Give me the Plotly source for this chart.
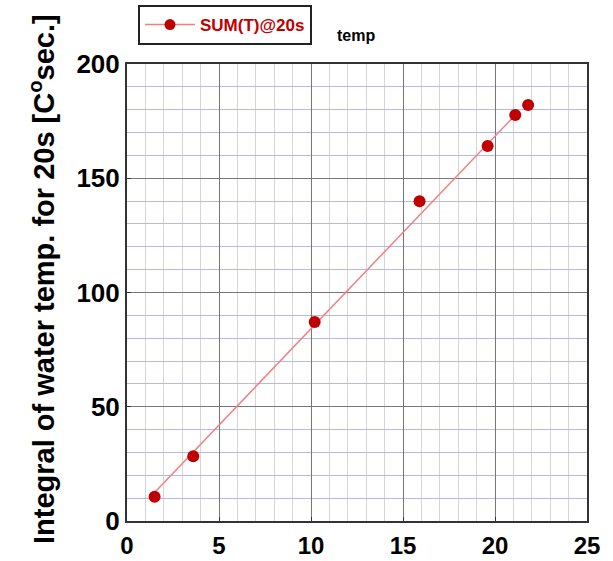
import plotly.graph_objects as go

# Data
time_s = [1.5, 3.6, 10.2, 15.9, 19.6, 21.1, 21.8]
sum_temp = [10.6, 28.3, 87.1, 139.9, 164.1, 177.7, 182.1]

fit_x = [1.5, 20.9]
fit_y = [12.5, 176.0]

series_name = "SUM(T)@20s"
y_title = "Integral of water temp. for 20s [C<sup>o</sup>sec.]"
x_ticks = [0, 5, 10, 15, 20, 25]
y_ticks = [0, 50, 100, 150, 200]

red = "#c00000"
line_col = "#f08080"

fig = go.Figure()
fig.add_trace(go.Scatter(x=fit_x, y=fit_y, mode="lines",
                         line=dict(color=line_col, width=1.5), showlegend=False))
fig.add_trace(go.Scatter(x=time_s, y=sum_temp, mode="markers",
                         marker=dict(color=red, size=12), showlegend=False))
# legend entry
fig.add_trace(go.Scatter(x=[None], y=[None], mode="lines+markers", name=series_name,
                         line=dict(color=line_col, width=1.5),
                         marker=dict(color=red, size=11)))

fam = "Liberation Sans"
PL, PT, PW, PH = 127, 64, 460, 457

fig.update_layout(
    width=613, height=561,
    margin=dict(l=PL, r=613 - PL - PW, t=PT, b=561 - PT - PH, autoexpand=False),
    plot_bgcolor="white", paper_bgcolor="white",
    showlegend=True,
    legend=dict(x=(138 - PL) / PW, y=(PT + PH - 5) / PH, xanchor="left", yanchor="top",
                bordercolor="#222", borderwidth=2, bgcolor="white",
                font=dict(family=fam, size=17, color=red, weight="bold"),
                itemwidth=50),
    annotations=[
        dict(text="<b>temp</b>", xref="paper", yref="paper",
             x=(335 - PL) / PW, y=(PT + PH - 35) / PH,
             xanchor="left", yanchor="middle", showarrow=False,
             font=dict(size=16, color="black", family=fam)),
        dict(text=y_title, xref="paper", yref="paper", textangle=-90,
             x=(42 - PL) / PW, y=(PT + PH - 279) / PH,
             xanchor="center", yanchor="middle", showarrow=False,
             font=dict(size=29, color="black", family=fam, weight="bold")),
    ],
)

fig.update_xaxes(range=[0, 25], tickvals=x_ticks, ticktext=[str(v) for v in x_ticks],
                 showgrid=True, gridcolor="#777", gridwidth=1.2,
                 minor=dict(dtick=1, showgrid=True, gridcolor="#d6d6d6", gridwidth=1),
                 showline=True, linecolor="#333", linewidth=2, mirror=True,
                 ticks="inside", ticklen=4, tickcolor="#333",
                 ticklabelstandoff=2, automargin=False,
                 tickfont=dict(family=fam, size=24, color="black", weight="bold"),
                 zeroline=False)
fig.update_yaxes(range=[0, 200], tickvals=y_ticks, ticktext=[str(v) for v in y_ticks],
                 showgrid=True, gridcolor="#777", gridwidth=1.2,
                 minor=dict(dtick=10, showgrid=True, gridcolor="#b8b8e8", gridwidth=1),
                 showline=True, linecolor="#333", linewidth=2, mirror=True,
                 ticks="inside", ticklen=4, tickcolor="#333", automargin=False,
                 tickfont=dict(family=fam, size=26, color="black", weight="bold"),
                 zeroline=False)

fig.write_html("out.html")
